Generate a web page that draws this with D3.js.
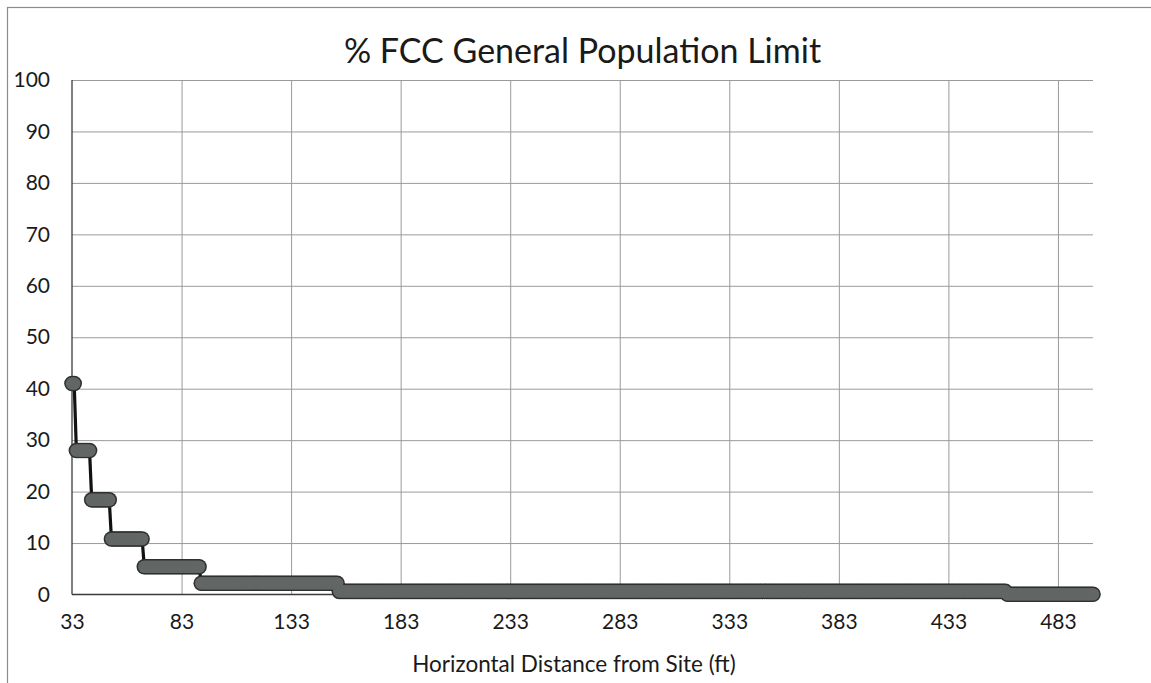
<!DOCTYPE html>
<html>
<head>
<meta charset="utf-8">
<script src="https://cdn.jsdelivr.net/npm/d3@7"></script>
<style>
  html, body { margin: 0; padding: 0; background: #ffffff; }
  svg { display: block; }
  text { font-family: Lato, "Open Sans", "Liberation Sans", sans-serif; fill: #1a1a1a; }
</style>
</head>
<body>
<svg id="chart" width="1151" height="683"></svg>
<script>
// Horizontal distance (ft) where each exposure level begins
const stepStart = [33, 35, 42, 51, 66, 92, 155, 460];
// % of FCC general population limit held from that distance onward
const stepLevel = [41, 28, 18.4, 10.8, 5.4, 2.2, 0.6, 0.05];
// last computed distance (ft)
const lastDistance = 499;

const yTicks = [0, 10, 20, 30, 40, 50, 60, 70, 80, 90, 100];
const xTicks = [33, 83, 133, 183, 233, 283, 333, 383, 433, 483];

const title = "% FCC General Population Limit";
const xTitle = "Horizontal Distance from Site (ft)";

// one sample per foot, each holding the level of the step it falls in
const points = [];
stepStart.forEach((s, i) => {
  const e = i < stepStart.length - 1 ? stepStart[i + 1] - 1 : lastDistance;
  for (let d = s; d <= e; d++) points.push({ d, v: stepLevel[i] });
});

const svg = d3.select("#chart");
const plot = { left: 72, right: 1093, top: 80, bottom: 594.5 };

const x = d3.scaleLinear().domain([33, lastDistance]).range([plot.left, plot.right]);
const y = d3.scaleLinear().domain([0, 100]).range([plot.bottom, plot.top]);

// chart frame
svg.append("rect")
  .attr("x", 7.5).attr("y", 7.5)
  .attr("width", 1200).attr("height", 800)
  .attr("fill", "none").attr("stroke", "#8c8c8c").attr("stroke-width", 1.2);

// horizontal gridlines
svg.append("g")
  .attr("transform", `translate(${plot.left},0)`)
  .call(d3.axisLeft(y).tickValues(yTicks.filter(t => t > 0))
    .tickSize(-(plot.right - plot.left)).tickFormat(""))
  .call(g => g.select(".domain").remove())
  .call(g => g.selectAll("line").attr("stroke", "#9a9a9a").attr("stroke-width", 1));

// vertical gridlines
svg.append("g")
  .attr("transform", `translate(0,${plot.bottom})`)
  .call(d3.axisBottom(x).tickValues(xTicks.filter(t => t > 33))
    .tickSize(-(plot.bottom - plot.top)).tickFormat(""))
  .call(g => g.select(".domain").remove())
  .call(g => g.selectAll("line").attr("stroke", "#9a9a9a").attr("stroke-width", 1));

// axis lines
svg.append("line")
  .attr("x1", plot.left).attr("x2", plot.left)
  .attr("y1", plot.top).attr("y2", plot.bottom)
  .attr("stroke", "#3a3a3a").attr("stroke-width", 1.3);
svg.append("line")
  .attr("x1", plot.left).attr("x2", plot.right)
  .attr("y1", plot.bottom).attr("y2", plot.bottom)
  .attr("stroke", "#3a3a3a").attr("stroke-width", 1.3);

// y tick labels
const yAxis = svg.append("g")
  .attr("transform", `translate(${plot.left},0)`)
  .call(d3.axisLeft(y).tickValues(yTicks).tickSize(0).tickPadding(22));
yAxis.select(".domain").remove();
yAxis.selectAll("text")
  .style("font-family", "Lato, 'Open Sans', sans-serif")
  .style("font-size", "21px").attr("fill", "#1a1a1a");

// x tick labels
const xAxis = svg.append("g")
  .attr("transform", `translate(0,${plot.bottom})`)
  .call(d3.axisBottom(x).tickValues(xTicks).tickSize(0).tickPadding(20));
xAxis.select(".domain").remove();
xAxis.selectAll("text")
  .style("font-family", "Lato, 'Open Sans', sans-serif")
  .style("font-size", "21px").attr("fill", "#1a1a1a");

// titles
svg.append("text")
  .attr("x", (plot.left + plot.right) / 2).attr("y", 63)
  .attr("text-anchor", "middle")
  .style("font-size", "34px")
  .text(title);
svg.append("text")
  .attr("x", 574).attr("y", 672)
  .attr("text-anchor", "middle")
  .style("font-size", "22.5px")
  .text(xTitle);

// connecting line
const line = d3.line().x(p => x(p.d)).y(p => y(p.v));
svg.append("path")
  .datum(points)
  .attr("d", line)
  .attr("fill", "none").attr("stroke", "#111").attr("stroke-width", 3.2);

// markers: dark rims first, then the fill over them so runs merge into bars
const r = 7.8;
const marks = svg.append("g");
marks.selectAll("circle.rim").data(points).join("circle")
  .attr("class", "rim")
  .attr("cx", p => x(p.d)).attr("cy", p => y(p.v)).attr("r", r)
  .attr("fill", "#2e302f");
marks.selectAll("circle.core").data(points).join("circle")
  .attr("class", "core")
  .attr("cx", p => x(p.d)).attr("cy", p => y(p.v)).attr("r", r - 1.5)
  .attr("fill", "#626664");
</script>
</body>
</html>
